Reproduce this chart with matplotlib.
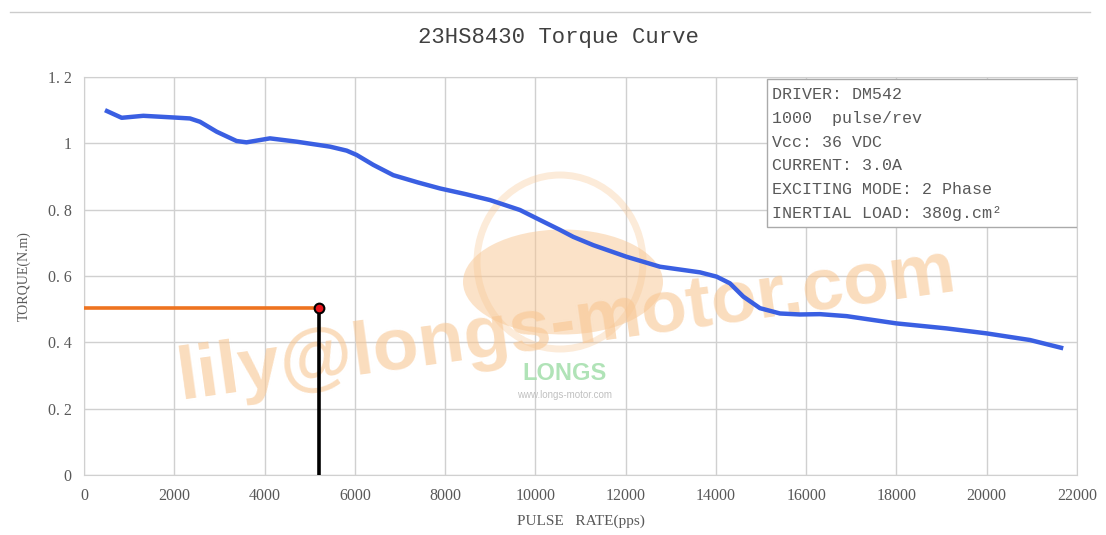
import matplotlib
matplotlib.use("Agg")
import matplotlib.pyplot as plt
from matplotlib.patches import Rectangle, Ellipse
from matplotlib.lines import Line2D

# torque curve, read point by point
pulse_rate = [465, 835, 1314, 1979, 2348, 2570, 2940, 3380, 3600, 4120, 4710, 5450,
              5820, 6040, 6410, 6852, 7400, 7887, 8450, 8994, 9659, 10100, 10545,
              10840, 11283, 12020, 12760, 13647, 14016, 14310, 14606, 14976, 15419,
              15862, 16305, 16896, 18003, 19110, 19996, 20957, 21695]
torque = [1.100, 1.077, 1.083, 1.078, 1.075, 1.065, 1.035, 1.007, 1.003, 1.015, 1.005, 0.990,
          0.978, 0.965, 0.935, 0.904, 0.882, 0.864, 0.847, 0.829, 0.799, 0.769, 0.739,
          0.718, 0.693, 0.658, 0.628, 0.611, 0.598, 0.578, 0.538, 0.503, 0.487,
          0.484, 0.485, 0.479, 0.457, 0.442, 0.427, 0.407, 0.382]

# operating point marker
mark_x = 5200
mark_y = 0.505

x_ticks = [0, 2000, 4000, 6000, 8000, 10000, 12000, 14000, 16000, 18000, 20000, 22000]
y_ticks = [0, 0.2, 0.4, 0.6, 0.8, 1.0, 1.2]
y_tick_labels = ["0", "0. 2", "0. 4", "0. 6", "0. 8", "1", "1. 2"]

info_lines = ["DRIVER: DM542",
              "1000  pulse/rev",
              "Vcc: 36 VDC",
              "CURRENT: 3.0A",
              "EXCITING MODE: 2 Phase",
              "INERTIAL LOAD: 380g.cm\u00b2"]

grey = "#595959"
grid_c = "#d0d0d0"
peach = "#f8c692"

fig = plt.figure(figsize=(11.06, 5.35), dpi=100)
ax = fig.add_axes([84 / 1106, 1 - 475 / 535, (1077 - 84) / 1106, (475 - 77) / 535])


def fx(px):
    return px / 1106


def fy(py):
    return 1 - py / 535


# watermark logo and text, kept under the curve
ft = fig.transFigure
ax.add_patch(Ellipse((fx(560), fy(262)), fx(166), 174 / 535, transform=ft,
                     fill=False, ec=peach, lw=5, alpha=0.35, zorder=1, clip_on=False))
ax.add_patch(Ellipse((fx(563), fy(282)), fx(200), 105 / 535, transform=ft,
                     fc=peach, ec="none", alpha=0.5, zorder=1, clip_on=False))
ax.text(fx(567), fy(325), "lily@longs-motor.com", fontsize=54, fontweight="bold",
        family="Liberation Sans", color=peach, alpha=0.6, rotation=8,
        ha="center", va="center", transform=ft, zorder=1)
ax.text(fx(565), fy(374), "LONGS", fontsize=17, fontweight="bold",
        family="Liberation Sans", color="#a8e0b0", alpha=0.9,
        ha="center", va="center", transform=ft, zorder=1)
ax.text(fx(565), fy(395), "www.longs-motor.com", fontsize=7,
        family="Liberation Sans", color="#c0c0c0",
        ha="center", va="center", transform=ft, zorder=1)

ax.plot(pulse_rate, torque, color="#3a5fe2", lw=3.2, solid_capstyle="butt",
        solid_joinstyle="round", zorder=3)

ax.plot([0, mark_x], [mark_y, mark_y], color="#ee7320", lw=2.6, zorder=4)
ax.plot([mark_x, mark_x], [0, mark_y], color="black", lw=2.6, zorder=4)
ax.plot([mark_x], [mark_y], "o", ms=7, mfc="#e8141c", mec="black", mew=1.5, zorder=5)

ax.set_xlim(0, 22000)
ax.set_ylim(0, 1.2)
ax.set_xticks(x_ticks)
ax.set_xticklabels([str(v) for v in x_ticks])
ax.set_yticks(y_ticks)
ax.set_yticklabels(y_tick_labels)
ax.set_axisbelow(True)
ax.grid(True, color=grid_c, lw=1, zorder=0)
ax.tick_params(length=0, colors=grey, labelsize=11.5, pad=9)
for lab in ax.get_xticklabels() + ax.get_yticklabels():
    lab.set_family("Liberation Serif")
for s in ax.spines.values():
    s.set_color(grid_c)

ax.set_xlabel("PULSE   RATE(pps)", family="Liberation Serif", fontsize=11,
              color=grey, labelpad=8)
ax.set_ylabel("TORQUE(N.m)", family="Liberation Serif", fontsize=10,
              color=grey, labelpad=12)
fig.text(fx(558), fy(38), "23HS8430 Torque Curve", family="Liberation Mono",
         fontsize=16, color="#404040", ha="center", va="center")

# driver settings box
box_x0 = 15130
ax.add_patch(Rectangle((box_x0, 0.748), 22000 - box_x0, 1.194 - 0.748,
                       fc="white", ec="#aaaaaa", lw=1, zorder=6))
for i, line in enumerate(info_lines):
    ax.text(box_x0 + 120, 1.147 - i * 0.0715, line, family="Liberation Mono",
            fontsize=12, color=grey, va="center", ha="left", zorder=7)

# thin frame line across the top
fig.add_artist(Line2D([fx(10), fx(1090)], [fy(12), fy(12)],
                      transform=ft, color="#cccccc", lw=1))

fig.savefig("out.png", dpi=100)
